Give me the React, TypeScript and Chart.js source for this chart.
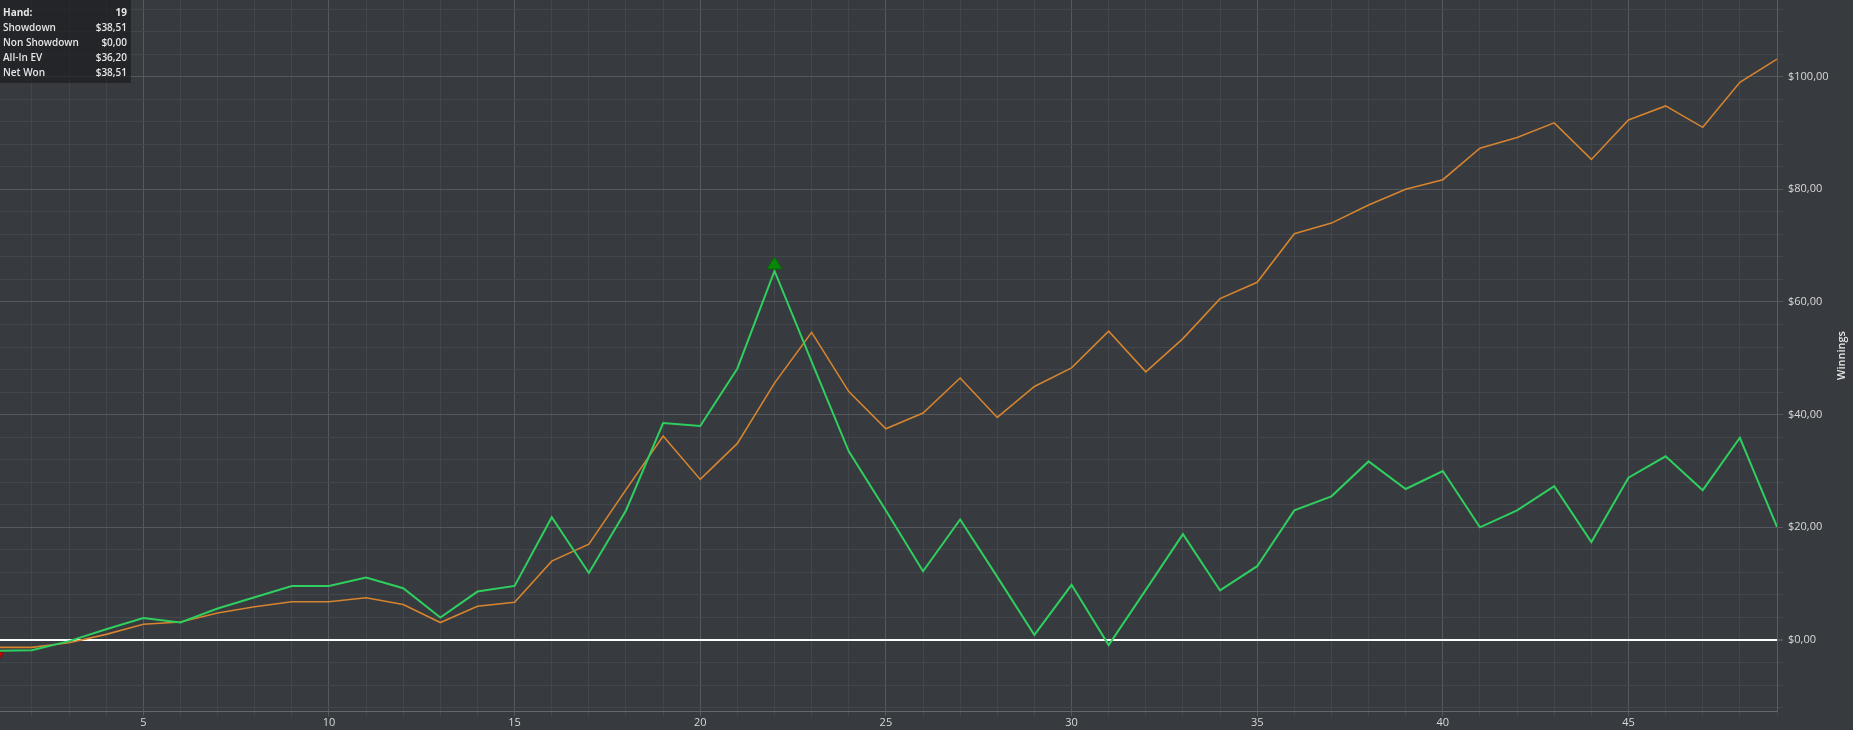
import React, { useEffect, useRef } from 'react';
import { Chart, registerables } from 'chart.js';

Chart.register(...registerables);

// ---- data ----
const hands = [
  1, 2, 3, 4, 5, 6, 7, 8, 9, 10, 11, 12, 13, 14, 15, 16, 17, 18, 19, 20, 21, 22, 23, 24, 25,
  26, 27, 28, 29, 30, 31, 32, 33, 34, 35, 36, 37, 38, 39, 40, 41, 42, 43, 44, 45, 46, 47, 48, 49,
];
const netWon = [
  -1.9, -1.8, -0.2, 1.9, 3.9, 3.1, 5.6, 7.6, 9.6, 9.6, 11.1, 9.2, 4.0, 8.6, 9.6, 21.8, 11.9, 23.0,
  38.51, 38.0, 48.2, 65.5, 49.4, 33.5, 23.0, 12.2, 21.4, 11.2, 0.9, 9.8, -0.9, 8.9, 18.8, 8.8, 13.1,
  23.0, 25.5, 31.7, 26.8, 30.0, 20.0, 23.0, 27.3, 17.4, 28.8, 32.6, 26.6, 35.9, 20.1,
];
const allInEv = [
  -1.3, -1.3, -0.5, 1.0, 2.8, 3.2, 4.8, 5.9, 6.8, 6.8, 7.5, 6.3, 3.1, 6.0, 6.7, 14.0, 17.0, 26.7,
  36.2, 28.5, 34.9, 45.6, 54.6, 44.1, 37.5, 40.3, 46.5, 39.5, 45.0, 48.3, 54.8, 47.6, 53.5, 60.6,
  63.5, 72.1, 74.0, 77.2, 80.0, 81.7, 87.3, 89.2, 91.8, 85.3, 92.3, 94.8, 91.0, 99.0, 103.1,
];
const xLabelValues = [5, 10, 15, 20, 25, 30, 35, 40, 45];
const yGridValues = [
  -12, -8, -4, 0, 4, 8, 12, 16, 20, 24, 28, 32, 36, 40, 44, 48, 52, 56, 60, 64, 68, 72, 76, 80, 84,
  88, 92, 96, 100, 104, 108, 112,
];
const yLabelValues = [0, 20, 40, 60, 80, 100];
const infoLabels = ['Hand:', 'Showdown', 'Non Showdown', 'All-In EV', 'Net Won'];
const infoValues = ['19', '$38,51', '$0,00', '$36,20', '$38,51'];
const axisTitle = 'Winnings';

// ---- style ----
const BG = '#373a3e';
const GRID_MINOR = '#43464a';
const GRID_MAJOR = '#55585c';
const TEXT = '#d9d9d9';
const FONT = '"Open Sans", "Noto Sans", sans-serif';

const fmtMoney = (v: number) => '$' + v.toFixed(2).replace('.', ',');

const zeroPad = (scale: any) => {
  scale.paddingLeft = 0;
  scale.paddingRight = 0;
  scale.paddingTop = 0;
  scale.paddingBottom = 0;
};

const overlayPlugin = {
  id: 'overlay',
  afterDatasetsDraw(chart: any) {
    const { ctx, scales } = chart;
    const xs = scales.x;
    const ys = scales.y;
    let maxI = 0;
    let minI = 0;
    netWon.forEach((v, i) => {
      if (v > netWon[maxI]) maxI = i;
      if (v < netWon[minI]) minI = i;
    });
    const tri = (px: number, py: number, up: boolean, fill: string, stroke: string) => {
      ctx.save();
      ctx.beginPath();
      if (up) {
        ctx.moveTo(px, py - 14);
        ctx.lineTo(px + 7.5, py - 2);
        ctx.lineTo(px - 7.5, py - 2);
      } else {
        ctx.moveTo(px, py + 15);
        ctx.lineTo(px + 8.5, py + 2);
        ctx.lineTo(px - 8.5, py + 2);
      }
      ctx.closePath();
      ctx.fillStyle = fill;
      ctx.fill();
      ctx.strokeStyle = stroke;
      ctx.lineWidth = 1;
      ctx.stroke();
      ctx.restore();
    };
    tri(xs.getPixelForValue(hands[maxI]), ys.getPixelForValue(netWon[maxI]), true, '#0a870a', '#056a05');
    tri(xs.getPixelForValue(hands[minI]), ys.getPixelForValue(netWon[minI]), false, '#d00000', '#a00000');
  },
  afterDraw(chart: any) {
    const { ctx, chartArea } = chart;
    ctx.save();
    ctx.translate(chart.width - 11, (chartArea.top + chartArea.bottom) / 2);
    ctx.rotate(-Math.PI / 2);
    ctx.fillStyle = '#e6e6e6';
    ctx.font = '600 11px ' + FONT;
    ctx.textAlign = 'center';
    ctx.textBaseline = 'middle';
    ctx.fillText(axisTitle, 0, 0);
    ctx.restore();
  },
};

export default function App() {
  const ref = useRef<HTMLCanvasElement | null>(null);

  useEffect(() => {
    document.body.style.margin = '0';
    document.body.style.background = BG;
    if (!ref.current) return;
    const chart = new Chart(ref.current, {
      type: 'line',
      data: {
        datasets: [
          {
            label: 'Net Won',
            data: hands.map((h, i) => ({ x: h, y: netWon[i] })),
            borderColor: '#2fcf5f',
            borderWidth: 2,
            pointRadius: 0,
            tension: 0,
          },
          {
            label: 'All-In EV',
            data: hands.map((h, i) => ({ x: h, y: allInEv[i] })),
            borderColor: '#d5842f',
            borderWidth: 1.6,
            pointRadius: 0,
            tension: 0,
          },
        ],
      },
      options: {
        animation: false,
        responsive: false,
        devicePixelRatio: 1,
        layout: { padding: 0 },
        plugins: { legend: { display: false }, tooltip: { enabled: false }, title: { display: false } },
        scales: {
          x: {
            type: 'linear',
            position: 'bottom',
            min: 1.14,
            max: 49,
            afterBuildTicks: (scale: any) => {
              scale.ticks = hands.map((v) => ({ value: v }));
            },
            afterFit: (scale: any) => {
              scale.height = 19;
              zeroPad(scale);
            },
            border: { display: true, color: '#66696c', width: 1 },
            grid: {
              color: (c: any) => (xLabelValues.includes(c.tick?.value) ? GRID_MAJOR : GRID_MINOR),
              tickColor: (c: any) => (xLabelValues.includes(c.tick?.value) ? GRID_MAJOR : GRID_MINOR),
              lineWidth: 1,
              tickLength: 5,
              drawTicks: true,
            },
            ticks: {
              autoSkip: false,
              maxRotation: 0,
              padding: 1,
              color: TEXT,
              font: { family: FONT, size: 11, lineHeight: 1 },
              callback: (v: any) => (xLabelValues.includes(v) ? String(v) : ''),
            },
          },
          y: {
            type: 'linear',
            position: 'right',
            min: -12.6,
            max: 113.6,
            afterBuildTicks: (scale: any) => {
              scale.ticks = yGridValues.map((v) => ({ value: v }));
            },
            afterFit: (scale: any) => {
              scale.width = 76;
              zeroPad(scale);
            },
            border: { display: true, color: '#5c5f62', width: 1 },
            grid: {
              color: (c: any) => {
                const v = c.tick?.value;
                if (v === 0) return '#ffffff';
                return yLabelValues.includes(v) ? GRID_MAJOR : GRID_MINOR;
              },
              tickColor: (c: any) => (yLabelValues.includes(c.tick?.value) ? GRID_MAJOR : GRID_MINOR),
              lineWidth: (c: any) => (c.tick?.value === 0 ? 2 : 1),
              tickLength: 6,
              drawTicks: true,
            },
            ticks: {
              autoSkip: false,
              padding: 5,
              color: TEXT,
              font: { family: FONT, size: 11 },
              callback: (v: any) => (yLabelValues.includes(v) ? fmtMoney(v) : ''),
            },
          },
        },
      },
      plugins: [overlayPlugin],
    } as any);
    return () => chart.destroy();
  }, []);

  return (
    <div style={{ position: 'relative', width: 1853, height: 730, background: BG, overflow: 'hidden' }}>
      <canvas ref={ref} width={1853} height={730} style={{ display: 'block' }} />
      <div
        style={{
          position: 'absolute',
          left: 0,
          top: 0,
          width: 131,
          height: 83,
          background: 'rgba(24,25,27,0.62)',
          boxSizing: 'border-box',
          padding: '5px 4px 0 3px',
          fontFamily: FONT,
          fontSize: 10,
          color: '#e6e6e6',
        }}
      >
        {infoLabels.map((l, i) => (
          <div
            key={l}
            style={{
              display: 'flex',
              justifyContent: 'space-between',
              height: 15,
              lineHeight: '15px',
              fontWeight: i === 0 ? 700 : 600,
            }}
          >
            <span>{l}</span>
            <span>{infoValues[i]}</span>
          </div>
        ))}
      </div>
    </div>
  );
}
